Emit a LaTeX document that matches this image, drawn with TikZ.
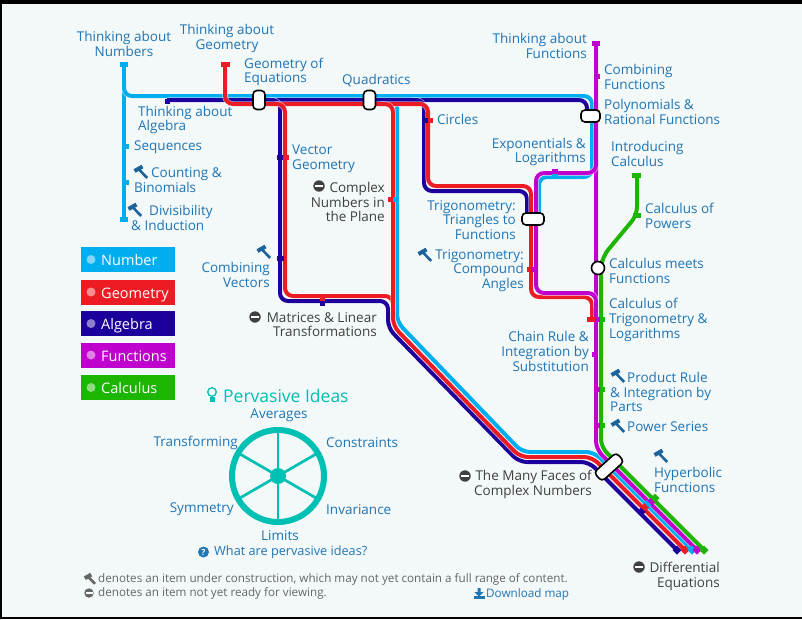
\documentclass[tikz,border=0pt]{standalone}
\usepackage{xcolor}
\usepackage{fontspec}
\setmainfont{Open Sans}
\usetikzlibrary{calc}
\definecolor{numcol}{HTML}{00AEEF}
\definecolor{geocol}{HTML}{ED1C24}
\definecolor{algcol}{HTML}{1D009B}
\definecolor{funcol}{HTML}{C000CC}
\definecolor{calcol}{HTML}{1CB500}
\definecolor{tealcol}{HTML}{00BFB3}
\definecolor{panelcol}{HTML}{F3F8F9}
\definecolor{txtblue}{HTML}{2075B5}
\definecolor{txtgrey}{HTML}{404040}
\definecolor{footgrey}{HTML}{666666}
\newcommand{\stub}[4]{\fill[#1] (#2,#4-2.5) rectangle (#3,#4+2.5);}
\newcommand{\stopmark}[3]{\fill[#1] (#2-4.5,#3) -- (#2,#3-4.5) -- (#2+4.5,#3) -- (#2,#3+4.5) -- cycle;}
\tikzset{
	track/.style={line width=4pt,rounded corners=8pt,preaction={draw=white,line width=5.5pt,opacity=.6}},
	stn/.style={inner sep=0pt,text=txtblue,yshift=-0.6pt,font=\fontsize{13.5}{14.7}\selectfont},
	stnL/.style={stn,anchor=west,align=left},
	stnR/.style={stn,anchor=east,align=right},
	stnC/.style={stn,anchor=center,align=center},
	legbox/.style={text=white,anchor=west,minimum height=25pt,inner xsep=5pt,inner ysep=0pt,text width=84pt,text height=12pt,text depth=0pt,align=left,font=\fontsize{14.5}{15}\selectfont},
	capsule/.style={draw=black,fill=white,line width=1.6pt,rounded corners=4pt,inner sep=0pt},
	hammer/.pic={
		\draw[line width=4pt] (-6.5,-1) -- (1.5,-5.5);
		\draw[line width=2.6pt] (-2,-2.5) -- (6.2,6);
	},
	notready/.pic={
		\fill[txtgrey] (0,0) circle (5.7);
		\fill[white] (-4.2,-1.2) rectangle (4.2,1.2);
	}
}
\begin{document}
\begin{tikzpicture}[x=1pt,y=-1pt]
	\useasboundingbox (0,0) rectangle (802,619);
	\fill[black] (0,0) rectangle (802,619);
	\fill[panelcol] (2,4) rectangle (802,617);
	% tracks
	\coordinate (numTop) at (124,64);
	\coordinate (numEnd) at (692,550);
	\coordinate (geoTop) at (225,64);
	\coordinate (geoEnd) at (685,550);
	\coordinate (algTop) at (167,100);
	\coordinate (algEnd) at (677,550);
	\coordinate (funTop) at (596,43);
	\coordinate (funEnd) at (697,550);
	\coordinate (calTop) at (637,176);
	\coordinate (calEnd) at (704,550);
	\draw[track,numcol] (numTop) -- (124,219);
	\draw[track,numcol] (124,80) -- (124,96) -- (397,96) -- (397,322) -- (522,452) -- (594,452) -- (numEnd);
	\draw[track,numcol] (385,96) -- (592,96) -- (592,177) -- (539,177) -- (539,219);
	\draw[track,algcol] (algTop) -- (587,100) -- (587,116);
	\draw[track,algcol] (270,100) -- (280,100) -- (280,301) -- (388,301) -- (388,328) -- (519,462) -- (589,462) -- (algEnd);
	\draw[track,algcol] (412,100) -- (424,100) -- (424,191) -- (527,191) -- (527,219);
	\draw[track,geocol] (geoTop) -- (225,104) -- (428,104) -- (428,186) -- (531,186) -- (531,297) -- (592,297) -- (592,320);
	\draw[track,geocol] (275,104) -- (285,104) -- (285,296) -- (393,296) -- (393,312);
	\draw[track,geocol] (380,104) -- (393,104) -- (393,326) -- (520,457) -- (592,457) -- (geoEnd);
	\draw[track,funcol] (funTop) -- (596,449) -- (funEnd);
	\draw[track,funcol] (596,160) -- (596,173) -- (536,173) -- (536,293) -- (596,293) -- (596,308);
	\draw[track,calcol] (calTop) -- (637,215) -- (603,256) -- (601,268) -- (601,447) -- (calEnd);
	% station ticks
	\foreach \xa/\xb/\ya in {120/128/64,120/128/219,124/129/146,124/129/182,393/398/199.5,552/558/175}{
		\stub{numcol}{\xa}{\xb}{\ya}
	}
	\foreach \xa/\xb/\ya in {221/230/64,283/289/157.5,388/393/199.5,428/433/120,527/531/269.5,587/595/319.5,320/325/299}{
		\stub{geocol}{\xa}{\xb}{\ya}
	}
	\foreach \xa/\xb/\ya in {165/170/101.5,277/283/157.5,423/428/120,277/284/258,320/325/303}{
		\stub{algcol}{\xa}{\xb}{\ya}
	}
	\foreach \xa/\xb/\ya in {592/600/43,595/600/76.5,552/558/171,531/534/269.5,595/600/319.5,592/598/354.5,595/600/389.5,594/600/425.5}{
		\stub{funcol}{\xa}{\xb}{\ya}
	}
	\foreach \xa/\xb/\ya in {632/641/175.5,633/641/215.5,600/605/319.5,600/605/389.5,600/605/425.5}{
		\stub{calcol}{\xa}{\xb}{\ya}
	}
	\stopmark{algcol}{677}{550}
	\stopmark{geocol}{685}{550}
	\stopmark{numcol}{692}{550}
	\stopmark{funcol}{697}{550}
	\stopmark{calcol}{704}{550}
	\stopmark{algcol}{642}{511}
	\stopmark{geocol}{645}{507}
	\stopmark{numcol}{649}{503}
	\stopmark{funcol}{652}{501}
	\stopmark{calcol}{655}{498}
	% interchanges
	\node[capsule,minimum width=12pt,minimum height=19pt] (capEq) at (259,100) {};
	\node[capsule,minimum width=12pt,minimum height=19pt] (capQuad) at (369.5,100) {};
	\node[capsule,minimum width=19pt,minimum height=12pt] (capPoly) at (590.5,116) {};
	\node[capsule,minimum width=22pt,minimum height=12pt] (capTrig) at (533,219) {};
	\node[capsule,minimum width=30pt,minimum height=12pt,rotate=42] (capFaces) at (609,467) {};
	\node[circle,draw=black,fill=white,line width=1.6pt,minimum size=13pt,inner sep=0pt] (meets) at (598,268) {};
	% number, geometry and algebra labels
	\node[stnC] (lThinkNum) at (124,43) {Thinking about\\Numbers};
	\node[stnC] (lThinkGeo) at (227,38) {Thinking about\\Geometry};
	\node[stnL] (lGeoEq) at (244,71.5) {Geometry of\\Equations};
	\node[stnL] (lQuad) at (342,80) {Quadratics};
	\node[stnL] (lThinkAlg) at (138,119.5) {Thinking about\\Algebra};
	\node[stnL] (lSeq) at (134,147) {Sequences};
	\node[stnL] (lCount) at (134,179.5) {\hspace*{17pt}Counting \&\\Binomials};
	\node[stnL] (lDiv) at (131,217.5) {\hspace*{18pt}Divisibility\\\& Induction};
	\node[stnL] (lVec) at (292,158) {Vector\\Geometry};
	\node[stnR,text=txtgrey] (lCplx) at (385,201.5) {Complex\\Numbers in\\the Plane};
	\node[stnL] (lCirc) at (437,119) {Circles};
	\node[stnR] (lCombVec) at (270,274.5) {Combining\\Vectors};
	\node[stnR,text=txtgrey] (lMat) at (377,324) {Matrices \& Linear\\Transformations};
	% function and calculus labels
	\node[stnR] (lThinkFun) at (587,45) {Thinking about\\Functions};
	\node[stnL] (lCombFun) at (604,76.5) {Combining\\Functions};
	\node[stnL] (lPoly) at (604,111) {Polynomials \&\\Rational Functions};
	\node[stnR] (lExp) at (586,151.5) {Exponentials \&\\Logarithms};
	\node[stnL] (lIntro) at (611,153.5) {Introducing\\Calculus};
	\node[stnR] (lTrigA) at (516,219.5) {Trigonometry:\\Triangles to\\Functions};
	\node[stnL] (lPowers) at (645,215.5) {Calculus of\\Powers};
	\node[stnR] (lTrigB) at (524,270) {Trigonometry:\\Compound\\Angles};
	\node[stnL] (lMeets) at (609,270.5) {Calculus meets\\Functions};
	\node[stnL] (lCalcTrig) at (609,319.5) {Calculus of\\Trigonometry \&\\Logarithms};
	\node[stnR] (lChain) at (589,351) {Chain Rule \&\\Integration by\\Substitution};
	\node[stnL] (lProd) at (610,391.5) {\hspace*{17pt}Product Rule\\\& Integration by\\Parts};
	\node[stnL] (lPower) at (627,426) {Power Series};
	\node[stnL] (lHyp) at (654,479) {Hyperbolic\\Functions};
	\node[stnR,text=txtgrey] (lFaces) at (592,483.5) {The Many Faces of\\Complex Numbers};
	\node[stnR,text=txtgrey] (lDiff) at (720,575.5) {Differential\\Equations};
	% icons
	\foreach \xa/\ya in {141/172,135/210,264/252,425/255,618/376,618/426,661/456}
		\pic[color=txtblue!85!black] at (\xa,\ya) {hammer};
	\foreach \xa/\ya in {319/186,255/317,465/476,639/567}
		\pic at (\xa,\ya) {notready};
	% legend
	\node[legbox,fill=numcol] (legNum) at (81,259.5) {\hspace*{15pt}Number};
	\node[legbox,fill=geocol] (legGeo) at (81,292) {\hspace*{15pt}Geometry};
	\node[legbox,fill=algcol] (legAlg) at (81,323.5) {\hspace*{15pt}Algebra};
	\node[legbox,fill=funcol] (legFun) at (81,355) {\hspace*{15pt}Functions};
	\node[legbox,fill=calcol] (legCal) at (81,387.5) {\hspace*{15pt}Calculus};
	\foreach \ya in {259.5,292,323.5,355,387.5}
		\fill[white,opacity=.5] (91,\ya) circle (4.5);
	% pervasive ideas
	\node[stn,anchor=west,text=tealcol,font=\fontsize{17.5}{20}\selectfont] (pervTitle) at (223,395) {Pervasive Ideas};
	\draw[tealcol,line width=1.3pt] (212,392) circle (4.3);
	\fill[tealcol] (209.5,397) rectangle (214.5,402);
	\coordinate (wheel) at (278,476);
	\draw[tealcol,line width=6pt] (wheel) circle (46);
	\fill[tealcol] (wheel) circle (8);
	\foreach \ang in {30,90,150}
		\draw[tealcol,line width=2.7pt] (wheel) ++(\ang:46) -- ++(\ang+180:92);
	\node[stnC] (idAvg) at (279,415) {Averages};
	\node[stnR] (idTrans) at (238,442) {Transforming};
	\node[stnL] (idCons) at (326,442) {Constraints};
	\node[stnR] (idSym) at (234,509) {Symmetry};
	\node[stnL] (idInv) at (326,509) {Invariance};
	\node[stnC] (idLim) at (280,535) {Limits};
	\fill[txtblue] (203.5,552) circle (5.5);
	\node[inner sep=0pt,text=white,font=\fontsize{8.5}{9}\bfseries\selectfont] (qMark) at (203.5,552) {?};
	\node[stnL,font=\fontsize{12.7}{14}\selectfont] (lWhat) at (214,552) {What are pervasive ideas?};
	% footer
	\pic[color=footgrey,scale=.8] at (90,579) {hammer};
	\node[stnL,text=footgrey,font=\fontsize{11.67}{13}\selectfont] (footA) at (98,579) {denotes an item under construction, which may not yet contain a full range of content.};
	\fill[footgrey] (89,593) circle (4.7);
	\fill[white] (85.5,592) rectangle (92.5,594);
	\node[stnL,text=footgrey,font=\fontsize{11.67}{13}\selectfont] (footB) at (98,593) {denotes an item not yet ready for viewing.};
	\fill[txtblue] (477.5,588) -- (480.5,588) -- (480.5,592) -- (483.5,592) -- (479,596.5) -- (474.5,592) -- (477.5,592) -- cycle;
	\fill[txtblue] (473.5,596) rectangle (484.5,599);
	\node[stnL,font=\fontsize{11.7}{13}\selectfont] (lDown) at (486,594) {Download map};
\end{tikzpicture}
\end{document}
